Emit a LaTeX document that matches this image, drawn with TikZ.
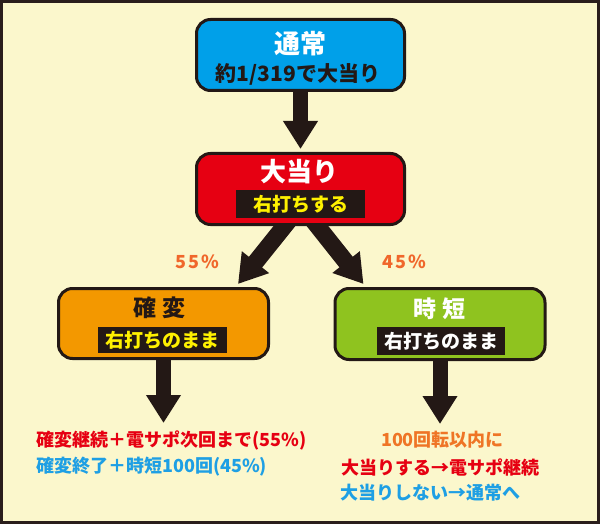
\documentclass[tikz,border=0pt]{standalone}
\usepackage{fontspec}
\setmainfont{Noto Sans CJK JP}
\usetikzlibrary{arrows.meta,calc}
\definecolor{bgc}{HTML}{FBF7CC}
\definecolor{framec}{HTML}{2A1E1C}
\definecolor{darkc}{HTML}{231815}
\definecolor{bluec}{HTML}{00A0E9}
\definecolor{redc}{HTML}{E60012}
\definecolor{orangec}{HTML}{F39800}
\definecolor{greenc}{HTML}{8FC31F}
\definecolor{yellowc}{HTML}{FFF100}
\definecolor{txtorange}{HTML}{F0672B}
\definecolor{txtorange2}{HTML}{EF7526}
\definecolor{txtred}{HTML}{E60012}
\definecolor{txtblue}{HTML}{1E9FE4}
\newcommand{\fs}[1]{\fontsize{#1}{#1}\selectfont\bfseries}
\tikzset{
  stagebox/.style={draw=darkc, line width=3pt, rounded corners=14pt, inner sep=0pt},
  blacklabel/.style={fill=darkc, inner sep=0pt},
  plaintext/.style={inner sep=0pt},
  bigarrow/.style={draw=darkc, line width=15pt, -{Triangle[width=33pt,length=28pt]}},
  diagarrow/.style={draw=darkc, line width=17pt, -{Triangle[width=33pt,length=28pt]}},
}
\begin{document}
\begin{tikzpicture}[x=1pt,y=-1pt]
\useasboundingbox (0,0) rectangle (600,524);
\fill[bgc] (0,0) rectangle (600,524);
\draw[framec, line width=3pt] (1.5,1.5) rectangle (598.5,522.5);

\coordinate (kend) at (163.5,423);
\coordinate (jend) at (440,424);
\coordinate (lstart) at (292.5,216);
\coordinate (rstart) at (309.5,216);
\coordinate (ltip) at (238,284);
\coordinate (rtip) at (363.5,284);

% boxes
\node[stagebox, fill=bluec, minimum width=208pt, minimum height=71pt] (tsujo) at (300.5,55) {};
\node[stagebox, fill=redc, minimum width=208pt, minimum height=71pt] (oatari) at (300.5,189) {};
\node[stagebox, fill=orangec, minimum width=210pt, minimum height=70pt] (kakuhen) at (163.5,323.5) {};
\node[stagebox, fill=greenc, minimum width=210pt, minimum height=71pt] (jitan) at (440,324) {};

% arrows
\draw[bigarrow, shorten >=3pt] (tsujo.south) -- (oatari.north);
\begin{scope}
\clip (0,225) rectangle (600,300);
\draw[diagarrow] (lstart) -- (ltip);
\draw[diagarrow] (rstart) -- (rtip);
\end{scope}
\draw[bigarrow] (kakuhen.south) -- (kend);
\draw[bigarrow] (jitan.south) -- (jend);

% titles
\node[plaintext, text=white] (tsujoT) at (300.5,43.5) {\fs{26}通常};
\node[plaintext, text=darkc] (tsujoS) at (298,74) {\fs{21}約1/319で大当り};
\node[plaintext, text=white] (oatariT) at (299,172) {\fs{26}大当り};
\node[blacklabel, minimum width=129pt, minimum height=28pt] (oatariL) at (300.5,204) {};
\node[plaintext, text=yellowc] at (oatariL) {\fs{19}右打ちする};
\node[plaintext, text=darkc] (kakuhenT) at (159.5,307.5) {\fs{23}確\hspace{6pt}変};
\node[blacklabel, minimum width=129pt, minimum height=26pt] (kakuhenL) at (162.5,340) {};
\node[plaintext, text=yellowc] at (kakuhenL) {\fs{19}右打ちのまま};
\node[plaintext, text=white] (jitanT) at (439.5,308.5) {\fs{23}時\hspace{6pt}短};
\node[blacklabel, minimum width=128pt, minimum height=28pt] (jitanL) at (441,341) {};
\node[plaintext, text=white] at (jitanL) {\fs{19}右打ちのまま};

% percentages
\node[plaintext, text=txtorange] (p55) at (197.5,262) {\fs{18}5\kern2pt5\kern2pt\%};
\node[plaintext, text=txtorange] (p45) at (404,262) {\fs{18}4\kern2pt5\kern2pt\%};

% bottom texts
\node[plaintext, anchor=west, text=txtred] (k1) at (36,440) {\fs{18}確変継続＋電サポ次回まで(55\%)};
\node[plaintext, anchor=west, text=txtblue] (k2) at (36,467) {\fs{18}確変終了＋時短100回(45\%)};
\node[plaintext, text=txtorange2] (j1) at (442.5,440) {\fs{18}100回転以内に};
\node[plaintext, anchor=west, text=txtred] (j2) at (341,467) {\fs{18}大当りする→電サポ継続};
\node[plaintext, anchor=west, text=txtblue] (j3) at (340,493) {\fs{18}大当りしない→通常へ};
\end{tikzpicture}
\end{document}
